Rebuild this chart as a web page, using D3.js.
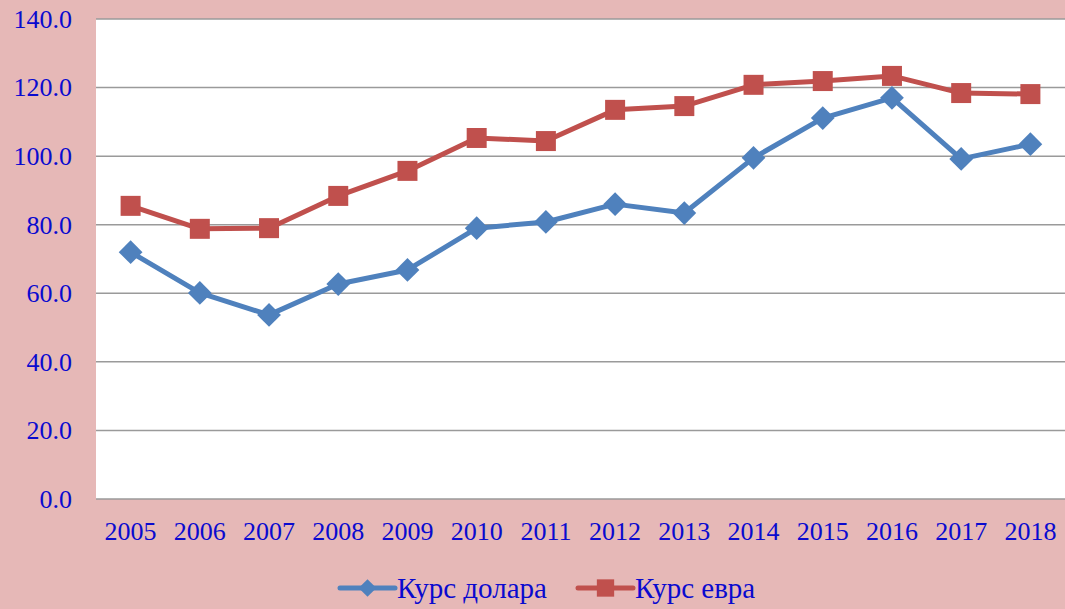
<!DOCTYPE html>
<meta charset="utf-8">
<script src="https://d3js.org/d3.v7.min.js"></script>
<style>
  body { margin: 0; background: #e6b8b7; }
  text { font-family: "Liberation Serif", "Times New Roman", serif; }
</style>
<div id="chart"></div>
<script>

var years = ["2005","2006","2007","2008","2009","2010","2011","2012","2013","2014","2015","2016","2017","2018"];
var dollar = [72.0, 60.1, 53.7, 62.7, 66.8, 79.0, 80.8, 86.0, 83.4, 99.5, 111.1, 117.0, 99.2, 103.5];
var euro = [85.5, 78.8, 79.0, 88.4, 95.7, 105.3, 104.4, 113.5, 114.6, 120.8, 121.9, 123.4, 118.4, 118.1];
var yTicks = [0, 20, 40, 60, 80, 100, 120, 140];
var seriesNames = ["Курс долара", "Курс евра"];

var W = 1065, H = 609;
var margin = {top: 19, right: 0, bottom: 110, left: 96};
var width = W - margin.left - margin.right,
    height = H - margin.top - margin.bottom;

var svg = d3.select("#chart").append("svg")
    .attr("width", W).attr("height", H);

svg.append("rect").attr("width", W).attr("height", H).attr("fill", "#e6b8b7");

var g = svg.append("g")
    .attr("transform", "translate(" + margin.left + "," + margin.top + ")");

g.append("rect").attr("width", width).attr("height", height).attr("fill", "#ffffff");

var x = d3.scaleBand().domain(years).range([0, width]);
var y = d3.scaleLinear().domain([0, 140]).range([height, 0]);

var textColor = "#0a0acf";

// gridlines
g.selectAll(".grid").data(yTicks).enter().append("line")
    .attr("x1", 0).attr("x2", width)
    .attr("y1", function(d) { return y(d); })
    .attr("y2", function(d) { return y(d); })
    .attr("stroke", "#9a9a9a").attr("stroke-width", 1.5);

// Y axis
var yAxis = g.append("g")
    .call(d3.axisLeft(y).tickValues(yTicks).tickSize(0).tickPadding(24)
      .tickFormat(d3.format(".1f")));
yAxis.select(".domain").remove();
yAxis.selectAll("text").attr("fill", textColor).attr("font-size", "26px")
    .attr("font-family", "Liberation Serif, serif");

// X axis
var xAxis = g.append("g").attr("transform", "translate(0," + height + ")")
    .call(d3.axisBottom(x).tickSize(0).tickPadding(23));
xAxis.select(".domain").remove();
xAxis.selectAll("text").attr("fill", textColor).attr("font-size", "26px")
    .attr("font-family", "Liberation Serif, serif");

var line = d3.line()
    .x(function(d, i) { return x(years[i]) + x.bandwidth() / 2; })
    .y(function(d) { return y(d); });

var colors = ["#4f81bd", "#c0504d"];
var diamond = d3.symbol().type(d3.symbolDiamond2).size(360);
var square = d3.symbol().type(d3.symbolSquare).size(400);

[dollar, euro].forEach(function(data, k) {
  g.append("path").datum(data)
    .attr("fill", "none").attr("stroke", colors[k]).attr("stroke-width", 5)
    .attr("stroke-linejoin", "round")
    .attr("d", line);
  g.selectAll(".m" + k).data(data).enter().append("path")
    .attr("class", "m" + k)
    .attr("transform", function(d, i) {
      return "translate(" + (x(years[i]) + x.bandwidth() / 2) + "," + y(d) + ")";
    })
    .attr("d", k === 0 ? diamond : square)
    .attr("fill", colors[k]);
});

// legend
var legendX = [340, 578];
var legY = 588;
seriesNames.forEach(function(name, k) {
  var lg = svg.append("g").attr("transform", "translate(" + legendX[k] + "," + legY + ")");
  lg.append("line").attr("x1", 0).attr("x2", 55).attr("y1", 0).attr("y2", 0)
    .attr("stroke", colors[k]).attr("stroke-width", 5).attr("stroke-linecap", "round");
  lg.append("path").attr("transform", "translate(27.5,0)")
    .attr("d", k === 0 ? d3.symbol().type(d3.symbolDiamond2).size(200) : d3.symbol().type(d3.symbolSquare).size(300))
    .attr("fill", colors[k]);
  lg.append("text").attr("x", 57).attr("y", 10)
    .attr("fill", textColor).attr("font-size", "29px").text(name);
});

</script>
